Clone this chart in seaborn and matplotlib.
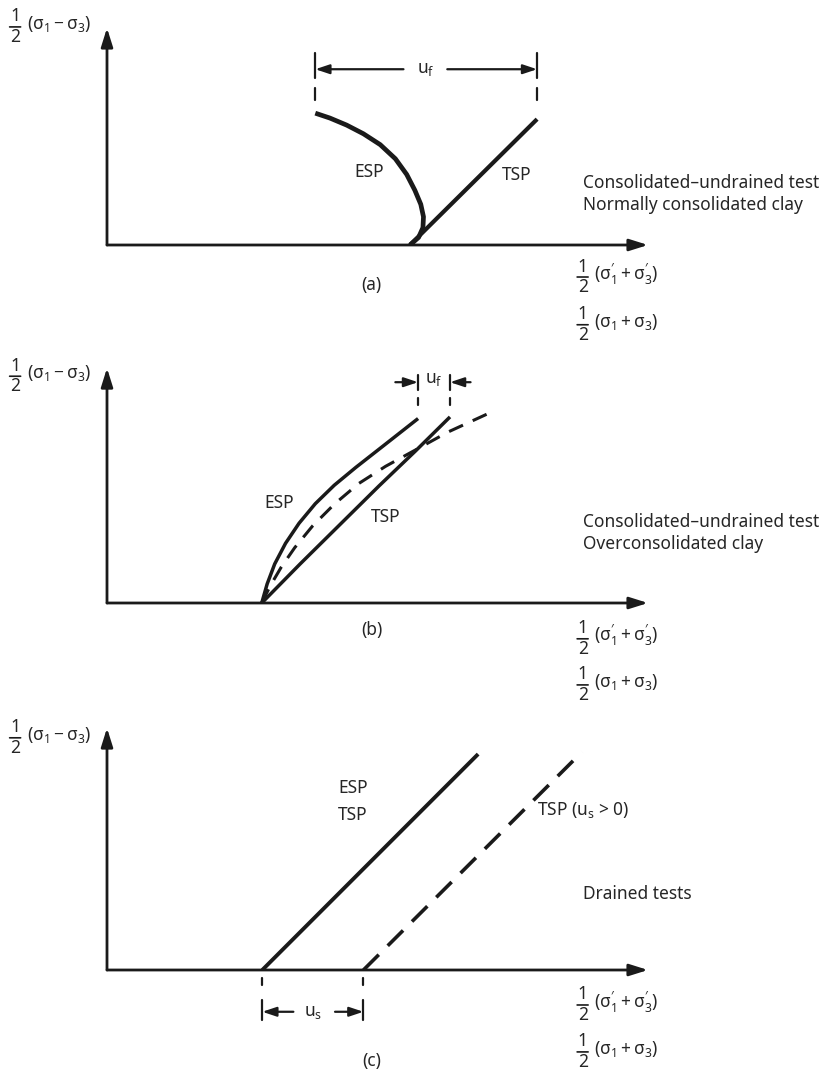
import matplotlib
matplotlib.use("Agg")
import matplotlib.pyplot as plt
import seaborn as sns

sns.set_theme(style="white")
plt.rcParams["font.family"] = ["Noto Sans", "DejaVu Sans"]
plt.rcParams.update({
    "mathtext.fontset": "custom",
    "mathtext.rm": "Noto Sans",
    "mathtext.it": "Noto Sans:italic",
    "mathtext.bf": "Noto Sans:bold",
    "mathtext.sf": "Noto Sans",
    "mathtext.default": "regular",
})

# (a) consolidated-undrained, normally consolidated clay
esp_a_p = [5.60, 5.76, 5.84, 5.85, 5.80, 5.69, 5.54, 5.33, 5.05, 4.74, 4.43, 4.12, 3.85]
esp_a_q = [0.0, 0.14, 0.32, 0.52, 0.75, 1.01, 1.30, 1.59, 1.85, 2.05, 2.21, 2.34, 2.43]
tsp_a_p = [5.60, 7.95]
tsp_a_q = [0.0, 2.32]

# (b) consolidated-undrained, overconsolidated clay
esp_b_p = [2.86, 2.96, 3.10, 3.30, 3.55, 3.85, 4.20, 4.60, 5.15, 5.75]
esp_b_q = [0.0, 0.35, 0.72, 1.10, 1.47, 1.83, 2.17, 2.50, 2.93, 3.40]
tsp_b_p = [2.86, 3.57, 4.30, 5.03, 5.70, 6.34]
tsp_b_q = [0.0, 0.72, 1.44, 2.16, 2.80, 3.43]
tsp_b_us_p = [2.86, 3.02, 3.22, 3.47, 3.80, 4.20, 4.65, 5.15, 5.70, 6.30, 7.02]
tsp_b_us_q = [0.0, 0.32, 0.66, 1.02, 1.42, 1.82, 2.20, 2.52, 2.82, 3.15, 3.48]

# (c) drained tests
esp_c_p = [2.87, 6.86]
esp_c_q = [0.0, 3.98]
tsp_c_p = [4.74, 8.78]
tsp_c_q = [0.0, 4.02]

W, H = 824, 1075
PX = 0.72  # points per pixel at dpi 100
fig = plt.figure(figsize=(W / 100, H / 100), dpi=100)
fig.patch.set_facecolor("white")

FS = 12.5
ylab = r"$(\sigma_1 - \sigma_3)$"
xlab1 = r"$(\sigma_1^{\prime} + \sigma_3^{\prime})$"
xlab2 = r"$(\sigma_1 + \sigma_3)$"


def panel(origin_px, ytop):
    # 10 units across = 541 px, 54.25 px per unit upwards
    hpx = ytop * 54.25
    ax = fig.add_axes([107 / W, (H - origin_px) / H, 541 / W, hpx / H])
    ax.set_xlim(0, 10)
    ax.set_ylim(0, ytop)
    ax.axis("off")
    arr = dict(arrowstyle="-|>,head_length=0.7,head_width=0.22", lw=2.0,
               color="k", shrinkA=0, shrinkB=0, mutation_scale=16)
    ax.annotate("", xy=(10, 0), xytext=(0, 0), arrowprops=arr, annotation_clip=False)
    ax.annotate("", xy=(0, ytop), xytext=(0, 0), arrowprops=arr, annotation_clip=False)
    return ax


def half(ax, x, y, rest):
    # stacked 1/2 followed by the bracket term; (x, y) = left end of fraction bar
    kw = dict(xy=(x, y), textcoords="offset points", fontsize=FS,
              va="center", annotation_clip=False)
    ax.annotate("1", xytext=(5.5 * PX, 10.5 * PX), ha="center", **kw)
    ax.annotate("2", xytext=(5.5 * PX, -10.0 * PX), ha="center", **kw)
    ax.annotate("", xy=(x, y), xytext=(11 * PX, 0), textcoords="offset points",
                annotation_clip=False,
                arrowprops=dict(arrowstyle="-", lw=1.2, color="k", shrinkA=0, shrinkB=0))
    ax.annotate(rest, xytext=(17 * PX, 3 * PX), ha="left", **kw)


def labels(ax, ytxt, x1y, x2y):
    half(ax, -1.80, ytxt, ylab)
    half(ax, 8.69, x1y, xlab1)
    half(ax, 8.69, x2y, xlab2)


def path(ax, p, q, lw, dashes=None):
    sns.lineplot(x=p, y=q, sort=False, estimator=None, color="k", lw=lw, ax=ax,
                 solid_capstyle="butt", solid_joinstyle="round")
    if dashes is not None:
        ax.lines[-1].set_dashes(dashes)


def small_arrow(ax, x0, x1, y):
    ax.annotate("", xy=(x1, y), xytext=(x0, y), annotation_clip=False,
                arrowprops=dict(arrowstyle="-|>,head_length=0.6,head_width=0.2",
                                lw=1.6, color="k", shrinkA=0, shrinkB=0,
                                mutation_scale=14))


def bar(ax, x, y0, y1, lw=1.6):
    ax.plot([x, x], [y0, y1], color="k", lw=lw, clip_on=False)


# ---------- (a)
ax = panel(245, 4.0)
path(ax, esp_a_p, esp_a_q, 3.4)
path(ax, tsp_a_p, tsp_a_q, 3.0)
labels(ax, 4.02, -0.59, -1.47)
ax.text(4.84, 1.35, "ESP", ha="center", va="center", fontsize=FS)
ax.text(7.58, 1.29, "TSP", ha="center", va="center", fontsize=FS)
ax.text(8.80, 1.14, "Consolidated–undrained test", ha="left", va="center", fontsize=FS, clip_on=False)
ax.text(8.80, 0.74, "Normally consolidated clay", ha="left", va="center", fontsize=FS, clip_on=False)
ax.text(4.88, -0.74, "(a)", ha="center", va="center", fontsize=FS, clip_on=False)
xl, xr = esp_a_p[-1], tsp_a_p[-1]
xm = (xl + xr) / 2
for x in (xl, xr):
    bar(ax, x, 3.08, 3.54)
    bar(ax, x, 2.67, 2.89)
small_arrow(ax, xm - 0.42, xl, 3.24)
small_arrow(ax, xm + 0.39, xr, 3.24)
ax.text(xm, 3.24, r"$u_f$", ha="center", va="center", fontsize=FS)

# ---------- (b)
ax = panel(603, 4.33)
path(ax, esp_b_p, esp_b_q, 2.5)
path(ax, tsp_b_p, tsp_b_q, 2.5)
path(ax, tsp_b_us_p, tsp_b_us_q, 2.2, dashes=(5, 3.5))
labels(ax, 4.18, -0.66, -1.51)
ax.text(3.18, 1.84, "ESP", ha="center", va="center", fontsize=FS)
ax.text(5.16, 1.59, "TSP", ha="center", va="center", fontsize=FS)
ax.text(8.80, 1.49, "Consolidated–undrained test", ha="left", va="center", fontsize=FS, clip_on=False)
ax.text(8.80, 1.09, "Overconsolidated clay", ha="left", va="center", fontsize=FS, clip_on=False)
ax.text(4.90, -0.50, "(b)", ha="center", va="center", fontsize=FS, clip_on=False)
xl, xr = esp_b_p[-1], tsp_b_p[-1]
for x in (xl, xr):
    bar(ax, x, 3.93, 4.20)
    bar(ax, x, 3.65, 3.78)
small_arrow(ax, xl - 0.42, xl, 4.07)
small_arrow(ax, xr + 0.38, xr, 4.07)
ax.text((xl + xr) / 2, 4.12, r"$\mathbf{u_f}$", ha="center", va="center", fontsize=FS)

# ---------- (c)
ax = panel(970, 4.46)
path(ax, esp_c_p, esp_c_q, 2.8)
path(ax, tsp_c_p, tsp_c_q, 2.6, dashes=(6, 3.5))
labels(ax, 4.28, -0.645, -1.51)
ax.text(4.55, 3.35, "ESP", ha="center", va="center", fontsize=FS)
ax.text(4.55, 2.86, "TSP", ha="center", va="center", fontsize=FS)
ax.text(7.95, 2.95, r"TSP (u$_s$ > 0)", ha="left", va="center", fontsize=FS)
ax.text(8.80, 1.40, "Drained tests", ha="left", va="center", fontsize=FS, clip_on=False)
ax.text(4.90, -1.68, "(c)", ha="center", va="center", fontsize=FS, clip_on=False)
xl, xr = esp_c_p[0], tsp_c_p[0]
xm = (xl + xr) / 2
for x in (xl, xr):
    bar(ax, x, -0.28, -0.15)
    bar(ax, x, -0.92, -0.55)
small_arrow(ax, xm - 0.36, xl, -0.77)
small_arrow(ax, xm + 0.41, xr, -0.77)
ax.text(xm, -0.77, r"$u_s$", ha="center", va="center", fontsize=FS)

fig.savefig("out.png", dpi=100, facecolor="white")
